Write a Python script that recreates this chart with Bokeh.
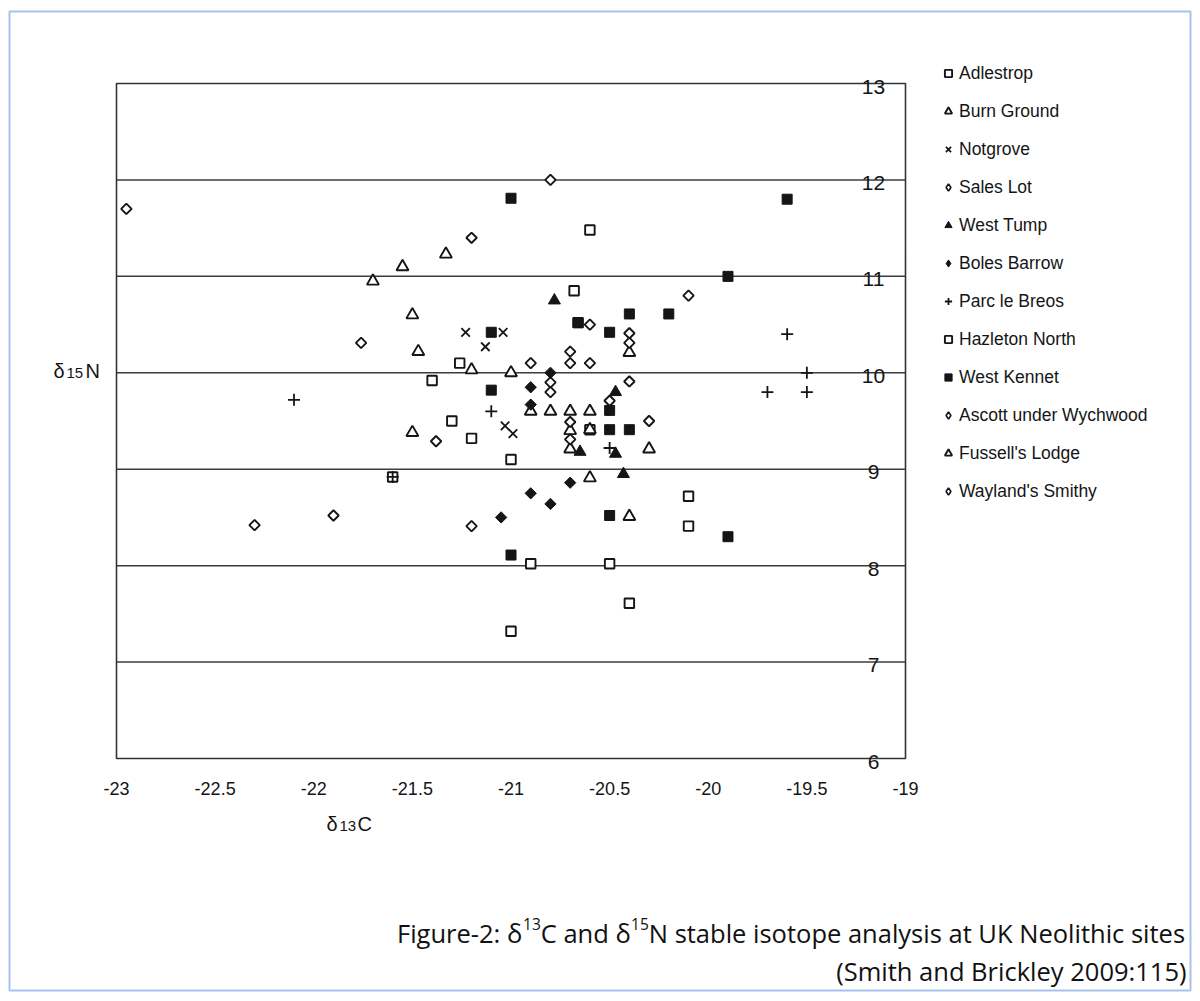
import math
from bokeh.plotting import figure
from bokeh.models import (Range1d, Legend, LegendItem, Label, LabelSet, ColumnDataSource)
from bokeh.core.properties import value
from bokeh.embed import file_html
from bokeh.resources import INLINE

# ---------------- data ----------------
adlestrop_x = [-20.1, -20.1]
adlestrop_y = [8.72, 8.41]

burn_ground_x = [-21.33, -21.55, -21.7, -21.5, -21.47, -21.2, -21.5]
burn_ground_y = [11.23, 11.1, 10.95, 10.6, 10.22, 10.03, 9.38]

notgrove_x = [-21.23, -21.04, -21.13, -21.03, -20.99]
notgrove_y = [10.42, 10.42, 10.27, 9.45, 9.37]

sales_lot_x = [-21.76]
sales_lot_y = [10.31]

west_tump_x = [-20.78, -20.47, -20.65, -20.47, -20.43]
west_tump_y = [10.75, 9.8, 9.18, 9.16, 8.95]

boles_barrow_x = [-20.8, -20.9, -20.9, -20.7, -20.9, -20.8, -21.05]
boles_barrow_y = [10.0, 9.85, 9.67, 8.86, 8.75, 8.64, 8.5]

parc_le_breos_x = [-22.1, -21.1, -20.5, -19.6, -19.5, -19.7, -19.5, -21.6]
parc_le_breos_y = [9.72, 9.6, 9.22, 10.4, 10.0, 9.8, 9.8, 8.92]

hazleton_x = [-20.6, -20.68, -20.66, -21.26, -21.4, -21.3, -21.2, -20.6, -21.0,
              -21.6, -20.9, -20.5, -20.4, -21.0]
hazleton_y = [11.48, 10.85, 10.52, 10.1, 9.92, 9.5, 9.32, 9.41, 9.1,
              8.92, 8.02, 8.02, 7.61, 7.32]

west_kennet_x = [-21.0, -19.6, -19.9, -20.4, -20.2, -20.5, -20.66, -21.1, -21.1,
                 -20.5, -20.5, -20.4, -20.5, -21.0, -19.9]
west_kennet_y = [11.81, 11.8, 11.0, 10.61, 10.61, 10.42, 10.52, 10.42, 9.82,
                 9.61, 9.41, 9.41, 8.52, 8.11, 8.3]

ascott_x = [-20.6, -20.9, -20.7, -20.7, -20.6, -20.8, -20.8, -20.1, -20.4, -20.4,
            -20.4, -20.5, -20.7, -20.7, -20.3, -21.2, -21.38]
ascott_y = [10.5, 10.1, 10.22, 10.1, 10.1, 9.9, 9.8, 10.8, 10.41, 10.31,
            9.91, 9.71, 9.49, 9.31, 9.5, 8.41, 9.29]

fussell_x = [-21.0, -20.4, -20.9, -20.8, -20.7, -20.6, -20.6, -20.7, -20.7, -20.3,
             -20.6, -20.4]
fussell_y = [10.0, 10.21, 9.6, 9.6, 9.6, 9.6, 9.41, 9.4, 9.21, 9.21,
             8.91, 8.51]

wayland_x = [-22.95, -22.3, -21.9, -21.2, -20.8]
wayland_y = [11.7, 8.42, 8.52, 11.4, 12.0]

series_names = ["Adlestrop", "Burn Ground", "Notgrove", "Sales Lot", "West Tump",
                "Boles Barrow", "Parc le Breos", "Hazleton North", "West Kennet",
                "Ascott under Wychwood", "Fussell's Lodge", "Wayland's Smithy"]

x_ticks = [-23.0, -22.5, -22.0, -21.5, -21.0, -20.5, -20.0, -19.5, -19.0]
x_tick_labels = ["-23", "-22.5", "-22", "-21.5", "-21", "-20.5", "-20", "-19.5", "-19"]
y_ticks = [6, 7, 8, 9, 10, 11, 12, 13]
y_tick_labels = ["6", "7", "8", "9", "10", "11", "12", "13"]

# ---------------- geometry ----------------
W, H = 1196, 995                          # canvas
BX0, BX1, BY0, BY1 = 116, 905, 83, 758    # pixel box of the plot area
X0, X1, Y0, Y1 = -23.0, -19.0, 6.0, 13.0
kx = (BX1 - BX0) / (X1 - X0)
ky = (BY1 - BY0) / (Y1 - Y0)

def dx(px):
    return X0 + (px - BX0) / kx

def dy(py):
    return Y0 + (BY1 - py) / ky

FONT = "Liberation Sans"
INK = "#151515"
GRID = "#3c3c3c"

p = figure(width=W, height=H, output_backend="svg", toolbar_location=None,
           x_range=Range1d(dx(0), dx(W)), y_range=Range1d(dy(H), dy(0)),
           x_axis_location=None, y_axis_location=None,
           min_border=0, min_border_left=0, min_border_right=0,
           min_border_top=0, min_border_bottom=0,
           background_fill_color="white", border_fill_color="white")
p.outline_line_color = None
p.xgrid.visible = False
p.ygrid.visible = False

# page border (light blue)
p.quad(left=[dx(9)], right=[dx(1190)], top=[dy(11)], bottom=[dy(990)],
       fill_color=None, line_color="#a6c3ec", line_width=2)

# horizontal grid lines at the inner y ticks
inner = [t for t in y_ticks if Y0 < t < Y1]
p.segment(x0=[X0] * len(inner), x1=[X1] * len(inner), y0=inner, y1=inner,
          line_color=GRID, line_width=1.5)
# plot box
p.quad(left=[X0], right=[X1], bottom=[Y0], top=[Y1], fill_color=None,
       line_color="#333333", line_width=1.6)

# x tick labels below the box
xsrc = ColumnDataSource(dict(x=x_ticks, y=[dy(788)] * len(x_ticks), t=x_tick_labels))
p.add_layout(LabelSet(x="x", y="y", text="t", source=xsrc, text_align="center",
                      text_baseline="middle", text_font=value(FONT),
                      text_font_size="18px", text_color=INK))

# y tick labels sitting on the lines, inside the right edge
ysrc = ColumnDataSource(dict(x=[dx(873)] * len(y_ticks), y=y_ticks, t=y_tick_labels))
p.add_layout(LabelSet(x="x", y="y", text="t", source=ysrc, text_align="center",
                      text_baseline="middle", y_offset=-3,
                      text_font=value(FONT), text_font_size="21px", text_color=INK))

# ---------------- markers ----------------
def open_style(**kw):
    d = dict(fill_color="white", line_color=INK, line_width=1.9)
    d.update(kw)
    return d

def filled_style(**kw):
    d = dict(fill_color=INK, line_color=INK, line_width=1)
    d.update(kw)
    return d

rot = math.pi / 4
r = {}
r["Hazleton North"] = p.scatter(hazleton_x, hazleton_y, marker="square", size=9.5, **open_style())
r["Adlestrop"] = p.scatter(adlestrop_x, adlestrop_y, marker="square", size=9.5, **open_style())
r["Burn Ground"] = p.scatter(burn_ground_x, burn_ground_y, marker="triangle", size=12, **open_style())
r["Fussell's Lodge"] = p.scatter(fussell_x, fussell_y, marker="triangle", size=12, **open_style())
r["Sales Lot"] = p.scatter(sales_lot_x, sales_lot_y, marker="square", angle=rot, size=7.4, **open_style())
r["Ascott under Wychwood"] = p.scatter(ascott_x, ascott_y, marker="square", angle=rot, size=7.4, **open_style())
r["Wayland's Smithy"] = p.scatter(wayland_x, wayland_y, marker="square", angle=rot, size=7.4, **open_style())
r["Notgrove"] = p.scatter(notgrove_x, notgrove_y, marker="x", size=12, line_color=INK, line_width=1.8)
r["Parc le Breos"] = p.scatter(parc_le_breos_x, parc_le_breos_y, marker="cross", size=12, line_color=INK, line_width=1.8)
r["West Tump"] = p.scatter(west_tump_x, west_tump_y, marker="triangle", size=12, **filled_style())
r["Boles Barrow"] = p.scatter(boles_barrow_x, boles_barrow_y, marker="square", angle=rot, size=8, **filled_style())
r["West Kennet"] = p.scatter(west_kennet_x, west_kennet_y, marker="square", size=10, **filled_style())

# legend swatches: diamonds drawn upright in the key (no data points of their own)
nan = [float("nan")]
key = dict(r)
key["Sales Lot"] = p.scatter(nan, nan, marker="diamond", size=10, **open_style(line_width=1.6))
key["Ascott under Wychwood"] = p.scatter(nan, nan, marker="diamond", size=10, **open_style(line_width=1.6))
key["Wayland's Smithy"] = p.scatter(nan, nan, marker="diamond", size=10, **open_style(line_width=1.6))
key["Boles Barrow"] = p.scatter(nan, nan, marker="diamond", size=10, **filled_style())

# ---------------- legend ----------------
items = [LegendItem(label=n, renderers=[key[n]]) for n in series_names]
n_items = len(items)
GH, SP, GW = 22, 16, 18
leg_h = n_items * GH + (n_items - 1) * SP
leg_top = 73 - GH / 2
legend = Legend(items=items,
                location=(948 - GW / 2, H - (leg_top + leg_h)),
                orientation="vertical", glyph_width=GW, glyph_height=GH,
                label_height=GH, spacing=SP, padding=0, margin=0,
                label_standoff=2, border_line_color=None, background_fill_alpha=0,
                label_text_font=FONT, label_text_font_size="17.5px",
                label_text_color=INK)
p.add_layout(legend)

# ---------------- text helpers ----------------
def lab(text, px, py, size, align="left", font=FONT, color=INK):
    p.add_layout(Label(x=dx(px), y=dy(py), text=text, x_units="data", y_units="data",
                       text_font=font, text_font_size=f"{size}px", text_align=align,
                       text_baseline="middle", text_color=color))

# axis titles (delta with small digits)
lab("δ", 53, 370, 20)
lab("15", 66, 372, 15)
lab("N", 85, 370, 20)

lab("δ", 326, 823, 20)
lab("13", 339, 825, 15)
lab("C", 357, 823, 20)

# ---------------- caption (right aligned, superscript digits) ----------------
CAP = "Open Sans"
CC = "#111111"
OS_W = {" ": .26, "a": .556, "b": .613, "c": .48, "d": .613, "e": .561, "g": .548,
        "h": .618, "i": .258, "l": .258, "n": .618, "o": .602, "p": .613, "r": .407,
        "s": .477, "t": .353, "u": .618, "y": .5, "C": .635, "F": .53, "K": .615,
        "N": .757, "U": .73, "-": .322, ":": .266, "δ": .6, "1": .572, "2": .572,
        "3": .572, "5": .572}

def tw(s, size):
    return sum(OS_W.get(ch, .56) for ch in s) * size

CS, SUP = 25.5, 15.5
RIGHT = 1186
L1, L2 = 932, 970
pieces = [("Figure-2: δ", CS, 0), ("13", SUP, -9), ("C and δ", CS, 0), ("15", SUP, -9),
          ("N stable isotope analysis at UK Neolithic sites", CS, 0)]
xpos = RIGHT
placed = []
for txt, sz, dyoff in reversed(pieces):
    xpos -= tw(txt, sz)
    placed.append((txt, sz, dyoff, xpos))
for txt, sz, dyoff, x in placed:
    lab(txt, x, L1 + dyoff, sz, font=CAP, color=CC)
lab("(Smith and Brickley 2009:115)", RIGHT, L2, CS, align="right", font=CAP, color=CC)

open("out.html", "w").write(file_html(p, INLINE))
